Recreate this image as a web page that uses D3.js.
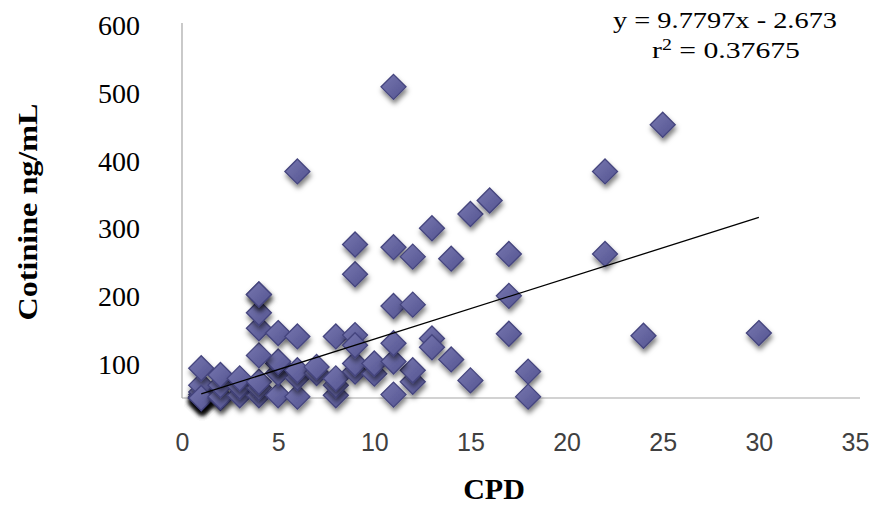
<!DOCTYPE html>
<html>
<head>
<meta charset="utf-8">
<script src="https://cdn.jsdelivr.net/npm/d3@7"></script>
<style>
  html, body { margin: 0; padding: 0; background: #fff; }
  svg { display: block; }
</style>
</head>
<body>
<svg id="chart" width="872" height="507"></svg>
<script>
// ---- data ----
const cpd = [
  1, 1, 1, 1, 1, 1, 1, 1, 1, 1, 1, 2, 2, 2, 2, 3, 3, 3, 4, 4, 4, 5, 5, 5, 5,
  6, 6, 6, 7, 7, 8, 8, 8, 9, 9, 10, 10, 12, 12, 11, 11,
  4, 4, 4, 4, 5, 6, 8, 9, 9, 13, 13, 11, 14, 15, 18, 18,
  4, 17, 11, 12, 17, 24, 30, 9, 9, 11, 12, 14, 17, 22, 13, 15, 16, 6, 22, 25, 11
];
const cotinine = [
  50, 50, 50, 51, 50, 52, 55, 59, 69, 94, 50, 50, 52, 69, 84, 54, 67, 79, 54, 65, 74, 54, 87, 101, 104,
  52, 80, 91, 87, 96, 54, 69, 79, 89, 101, 86, 101, 74, 91, 55, 104,
  113, 153, 176, 203, 146, 141, 141, 143, 128, 138, 125, 131, 107, 76, 89, 52,
  203, 145, 186, 188, 201, 142, 146, 233, 277, 273, 259, 256, 263, 263, 301, 322, 342, 385, 385, 454, 510
];
const trendX = [1, 30];
const trendY = [56, 317];
const xTicks = [0, 5, 10, 15, 20, 25, 30, 35];
const yTicks = [100, 200, 300, 400, 500, 600];
const equationText = "y = 9.7797x - 2.673";
const r2Value = "0.37675";
const xTitle = "CPD";
const yTitle = "Cotinine ng/mL";

// ---- drawing ----
const svg = d3.select("#chart");
const x = d3.scaleLinear().domain([0, 35]).range([182, 855]);
const y = d3.scaleLinear().domain([50, 600]).range([398, 26]);

const defs = svg.append("defs");
const grad = defs.append("linearGradient").attr("id", "mk")
  .attr("x1", "0").attr("y1", "0").attr("x2", "1").attr("y2", "1");
grad.append("stop").attr("offset", "0%").attr("stop-color", "#7878b0");
grad.append("stop").attr("offset", "100%").attr("stop-color", "#535390");
const flt = defs.append("filter").attr("id", "sh")
  .attr("x", "-60%").attr("y", "-60%").attr("width", "220%").attr("height", "220%");
flt.append("feDropShadow").attr("dx", 1).attr("dy", 4)
  .attr("stdDeviation", 2.5).attr("flood-color", "#000").attr("flood-opacity", 0.5);

// axes
const gy = svg.append("g").attr("transform", `translate(${x(0)},0)`)
  .call(d3.axisLeft(y).tickValues(yTicks).tickSize(0).tickSizeOuter(0).tickPadding(42));
gy.select(".domain").attr("stroke", "#a6a6a6").attr("stroke-width", 1.2)
  .attr("d", `M0,${y(600) - 3}V${y(50)}`);
gy.selectAll("text").attr("font-family", "'Liberation Serif', 'Times New Roman', serif")
  .attr("font-size", 28).attr("fill", "#000");

const gx = svg.append("g").attr("transform", `translate(0,${y(50)})`)
  .call(d3.axisBottom(x).tickValues(xTicks).tickSize(0).tickSizeOuter(0).tickPadding(35));
gx.select(".domain").attr("stroke", "#a6a6a6").attr("stroke-width", 1.2)
  .attr("d", `M${x(0)},0H${x(35) + 5}`);
gx.selectAll("text").attr("font-family", "'Liberation Sans Narrow', 'Arial Narrow', 'Liberation Sans', sans-serif")
  .attr("font-size", 25).attr("fill", "#404040");

// points
const pts = cpd.map((c, i) => ({ c, v: cotinine[i] }));
const half = 12.5;
svg.append("g").selectAll("path").data(pts).join("path")
  .attr("d", d => `M${x(d.c)},${y(d.v) - half}L${x(d.c) + half},${y(d.v)}L${x(d.c)},${y(d.v) + half}L${x(d.c) - half},${y(d.v)}Z`)
  .attr("fill", "url(#mk)")
  .attr("stroke", "#45457e").attr("stroke-width", 1.3)
  .attr("filter", "url(#sh)");

// trend line
svg.append("line")
  .attr("x1", x(trendX[0])).attr("y1", y(trendY[0]))
  .attr("x2", x(trendX[1])).attr("y2", y(trendY[1]))
  .attr("stroke", "#000").attr("stroke-width", 1.3);

// equation
const eq = svg.append("g").attr("font-family", "'Liberation Serif', 'Times New Roman', serif")
  .attr("fill", "#000").attr("text-anchor", "middle");
eq.append("text").attr("x", 725).attr("y", 28).attr("font-size", 24)
  .attr("textLength", 224).attr("lengthAdjust", "spacingAndGlyphs").text(equationText);
const r2 = eq.append("text").attr("x", 726).attr("y", 58).attr("font-size", 24)
  .attr("textLength", 148).attr("lengthAdjust", "spacingAndGlyphs");
r2.append("tspan").text("r");
r2.append("tspan").attr("font-size", 16).attr("dy", -8).text("2");
r2.append("tspan").attr("dy", 8).text(" = " + r2Value);

// axis titles
svg.append("text").attr("x", 494).attr("y", 499)
  .attr("text-anchor", "middle")
  .attr("font-family", "'Liberation Serif', 'Times New Roman', serif")
  .attr("font-weight", "bold").attr("font-size", 30).attr("fill", "#000")
  .text(xTitle);
svg.append("text")
  .attr("transform", "translate(37,212) rotate(-90)")
  .attr("text-anchor", "middle")
  .attr("font-family", "'Liberation Serif', 'Times New Roman', serif")
  .attr("font-weight", "bold").attr("font-size", 28).attr("fill", "#000")
  .attr("textLength", 217).attr("lengthAdjust", "spacingAndGlyphs")
  .text(yTitle);
</script>
</body>
</html>
